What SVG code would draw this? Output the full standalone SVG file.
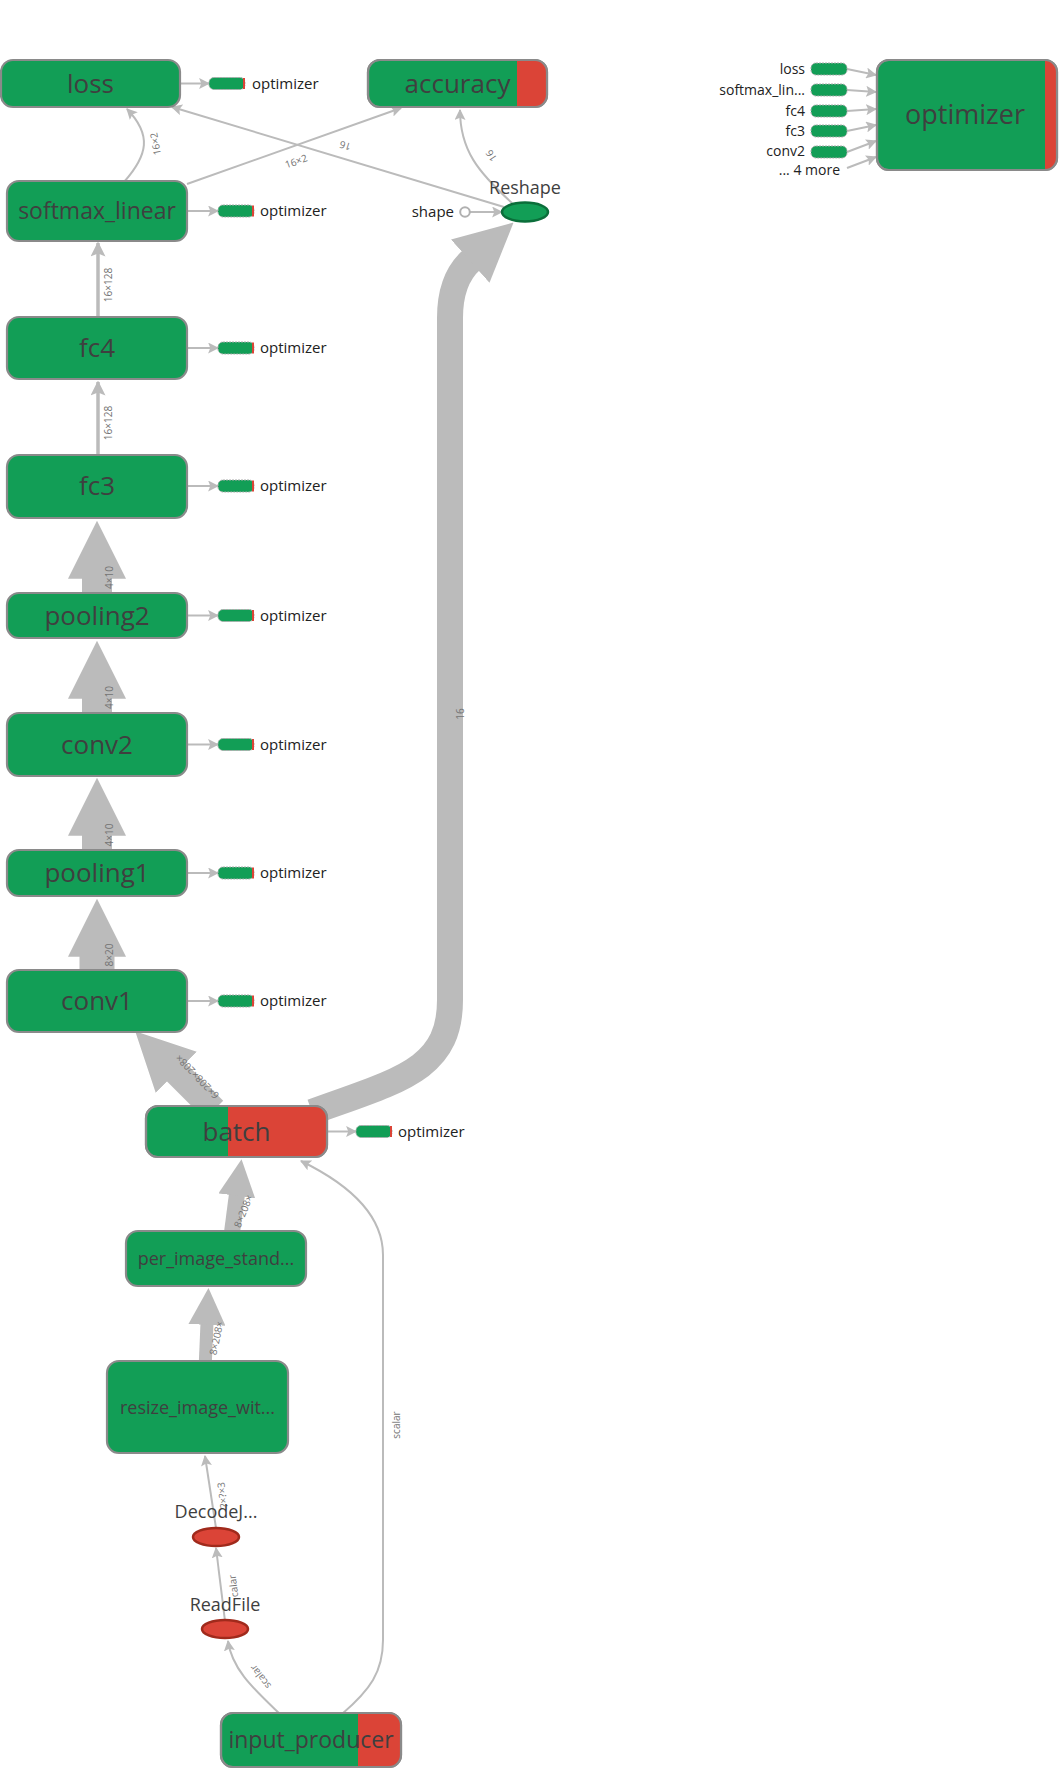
<svg xmlns="http://www.w3.org/2000/svg" width="1060" height="1772" viewBox="0 0 1060 1772">
<style>
.bg{fill:#ffffff}
.node{fill:#129e56;stroke:#8a8a8a;stroke-width:2.2}
.nodeo{fill:none;stroke:#8a8a8a;stroke-width:2.2}
.red{fill:#db4437}
.lbl{font-family:"Open Sans","Noto Sans","DejaVu Sans",sans-serif;fill:#3f3f3f;text-anchor:middle}
.ann{font-family:"Open Sans","Noto Sans","DejaVu Sans",sans-serif;fill:#222;font-size:15px}
.annR{font-family:"Open Sans","Noto Sans","DejaVu Sans",sans-serif;fill:#222;font-size:14px;text-anchor:end}
.el{font-family:"Open Sans","Noto Sans","DejaVu Sans",sans-serif;fill:#737373;font-size:10px;text-anchor:middle;dominant-baseline:central}
.e{fill:none;stroke:#bbbbbb}
.t2{stroke-width:2}
.t3{stroke-width:3.5}
.box{fill:#129e56;stroke:#aaa;stroke-width:1;stroke-dasharray:2,1}
.opE{fill:#129e56;stroke:#0b6e3a;stroke-width:2.5}
.rdE{fill:#db4437;stroke:#a02a1c;stroke-width:2.5}
</style>
<defs>
<marker id="hS" markerUnits="userSpaceOnUse" markerWidth="11" markerHeight="11" viewBox="0 0 10 10" refX="9" refY="5" orient="auto"><path d="M0,0 L10,5 L0,10 L2,5 z" fill="#bbbbbb"/></marker>
<marker id="hM" markerUnits="userSpaceOnUse" markerWidth="15" markerHeight="15" viewBox="0 0 10 10" refX="9" refY="5" orient="auto"><path d="M0,0 L10,5 L0,10 L2,5 z" fill="#bbbbbb"/></marker>
<marker id="hMid" markerUnits="userSpaceOnUse" markerWidth="37" markerHeight="37" viewBox="0 0 10 10" refX="0.5" refY="5" orient="auto"><path d="M0,0 L10,5 L0,10 z" fill="#bbbbbb"/></marker>
<marker id="hBig" markerUnits="userSpaceOnUse" markerWidth="58" markerHeight="58" viewBox="0 0 10 10" refX="0.3" refY="5" orient="auto"><path d="M0,0 L10,5 L0,10 z" fill="#bbbbbb"/></marker>
<clipPath id="cAcc"><rect x="368" y="60" width="179" height="47" rx="12"/></clipPath>
<clipPath id="cBatch"><rect x="146" y="1106" width="181" height="51" rx="12"/></clipPath>
<clipPath id="cIn"><rect x="221" y="1713" width="180" height="54" rx="12"/></clipPath>
<clipPath id="cOpt"><rect x="877" y="60" width="180" height="110" rx="12"/></clipPath>
</defs>
<rect class="bg" x="0" y="0" width="1060" height="1772"/>

<g id="connectors">
  <!-- big edges -->
  <path class="e" d="M312,1112 C400,1080 450,1070 450,1000 L450,318 C450,290 458,272 471.5,260" stroke-width="26" marker-end="url(#hBig)"/>
  <line class="e" x1="214" y1="1110" x2="175" y2="1071" stroke-width="26" marker-end="url(#hBig)"/>
  <line class="e" x1="97" y1="980" x2="97" y2="955" stroke-width="35" marker-end="url(#hBig)"/>
  <line class="e" x1="97" y1="860" x2="97" y2="834" stroke-width="30" marker-end="url(#hBig)"/>
  <line class="e" x1="97" y1="722" x2="97" y2="697" stroke-width="30" marker-end="url(#hBig)"/>
  <line class="e" x1="97" y1="602" x2="97" y2="577" stroke-width="30" marker-end="url(#hBig)"/>
  <line class="e" x1="231" y1="1240" x2="237" y2="1194" stroke-width="16" marker-end="url(#hMid)"/>
  <line class="e" x1="205" y1="1370" x2="207" y2="1323" stroke-width="13" marker-end="url(#hMid)"/>
  <!-- thin edges -->
  <line class="e t3" x1="98" y1="460" x2="98" y2="382" marker-end="url(#hM)"/>
  <line class="e t3" x1="98" y1="322" x2="98" y2="243" marker-end="url(#hM)"/>
  <line class="e t2" x1="225" y1="1621" x2="216" y2="1548" marker-end="url(#hS)"/>
  <line class="e t2" x1="216" y1="1528" x2="205" y2="1456" marker-end="url(#hS)"/>
  <path class="e t2" d="M280,1714 C255,1690 232,1670 228,1641" marker-end="url(#hS)"/>
  <path class="e t2" d="M342,1714 C370,1690 383,1672 383,1640 L383,1255 C383,1210 340,1180 301,1161" marker-end="url(#hS)"/>
  <path class="e t2" d="M124,182 C148,155 152,135 127,109" marker-end="url(#hS)"/>
  <line class="e t2" x1="187" y1="184" x2="401" y2="108" marker-end="url(#hS)"/>
  <line class="e t2" x1="504" y1="207" x2="172" y2="107" marker-end="url(#hS)"/>
  <path class="e t2" d="M512,203 C478,172 460,150 460,110" marker-end="url(#hS)"/>
  <line class="e t2" x1="469" y1="212" x2="502" y2="212" marker-end="url(#hS)"/>
  <!-- to optimizer annotations -->
  <line class="e t2" x1="180" y1="83.5" x2="209" y2="83.5" marker-end="url(#hS)"/>
  <line class="e t2" x1="187" y1="211" x2="218" y2="211" marker-end="url(#hS)"/>
  <line class="e t2" x1="187" y1="348" x2="218" y2="348" marker-end="url(#hS)"/>
  <line class="e t2" x1="187" y1="486" x2="218" y2="486" marker-end="url(#hS)"/>
  <line class="e t2" x1="187" y1="615.5" x2="218" y2="615.5" marker-end="url(#hS)"/>
  <line class="e t2" x1="187" y1="744.5" x2="218" y2="744.5" marker-end="url(#hS)"/>
  <line class="e t2" x1="187" y1="873" x2="218" y2="873" marker-end="url(#hS)"/>
  <line class="e t2" x1="187" y1="1001" x2="218" y2="1001" marker-end="url(#hS)"/>
  <line class="e t2" x1="327" y1="1131.5" x2="356" y2="1131.5" marker-end="url(#hS)"/>
  <!-- optimizer inputs -->
  <line class="e t2" x1="847" y1="69" x2="876" y2="75" marker-end="url(#hS)"/>
  <line class="e t2" x1="847" y1="90" x2="876" y2="92" marker-end="url(#hS)"/>
  <line class="e t2" x1="847" y1="111" x2="876" y2="109" marker-end="url(#hS)"/>
  <line class="e t2" x1="847" y1="131" x2="876" y2="125" marker-end="url(#hS)"/>
  <line class="e t2" x1="847" y1="152" x2="876" y2="141" marker-end="url(#hS)"/>
  <line class="e t2" x1="847" y1="168" x2="876" y2="157" marker-end="url(#hS)"/>
  <!-- edge labels -->
  <text class="el" transform="translate(108,285) rotate(-90)">16×128</text>
  <text class="el" transform="translate(108,423) rotate(-90)">16×128</text>
  <text class="el" transform="translate(108.5,577.5) rotate(-90)">4×10</text>
  <text class="el" transform="translate(108.5,697.5) rotate(-90)">4×10</text>
  <text class="el" transform="translate(108.5,835) rotate(-90)">4×10</text>
  <text class="el" transform="translate(108.5,955) rotate(-90)">8×20</text>
  <text class="el" transform="translate(396,1425) rotate(-90)">scalar</text>
  <text class="el" transform="translate(460,714) rotate(-90)">16</text>
  <text class="el" transform="translate(233,1586) rotate(-97)">calar</text>
  <text class="el" transform="translate(222,1495) rotate(-97)">?×?×3</text>
  <text class="el" transform="translate(216,1338) rotate(-78)">8×208×</text>
  <text class="el" transform="translate(243,1211) rotate(-68)">8×208×</text>
  <text class="el" transform="translate(197,1077) rotate(-134)">6×208×208×</text>
  <text class="el" transform="translate(155,144) rotate(-100)">16×2</text>
  <text class="el" transform="translate(296,161) rotate(-19.5)">16×2</text>
  <text class="el" transform="translate(345,146) rotate(197)">16</text>
  <text class="el" transform="translate(491,156) rotate(-123)">16</text>
  <text class="el" transform="translate(260,1677) rotate(-127)">scalar</text>
</g>

<g id="loss">
  <rect class="node" x="1" y="60" width="179" height="47" rx="12"/>
  <text class="lbl" x="90.5" y="93" font-size="26">loss</text>
  <rect class="box" x="209" y="77.5" width="36" height="12" rx="5"/>
  <rect class="red" x="243" y="78" width="2" height="11"/>
  <text class="ann" x="252" y="89">optimizer</text>
</g>
<g id="accuracy">
  <rect class="node" x="368" y="60" width="179" height="47" rx="12"/>
  <rect class="red" x="517" y="60" width="31" height="47" clip-path="url(#cAcc)"/>
  <rect class="nodeo" x="368" y="60" width="179" height="47" rx="12"/>
  <text class="lbl" x="457.5" y="93" font-size="26">accuracy</text>
</g>
<g id="softmax_linear">
  <rect class="node" x="7" y="181" width="180" height="60" rx="12"/>
  <text class="lbl" x="97" y="219" font-size="23">softmax_linear</text>
  <rect class="box" x="218" y="205" width="36" height="12" rx="5"/>
  <rect class="red" x="252" y="205.5" width="2" height="11"/>
  <text class="ann" x="260" y="216">optimizer</text>
</g>
<g id="Reshape">
  <text class="lbl" x="525" y="194" font-size="18">Reshape</text>
  <ellipse class="opE" cx="525" cy="212" rx="23" ry="9.5"/>
  <circle cx="465" cy="212" r="4.8" fill="#fff" stroke="#b0b0b0" stroke-width="2"/>
  <text class="ann" x="454" y="217" text-anchor="end">shape</text>
</g>
<g id="fc4">
  <rect class="node" x="7" y="317" width="180" height="62" rx="12"/>
  <text class="lbl" x="97" y="357" font-size="26">fc4</text>
  <rect class="box" x="218" y="342" width="36" height="12" rx="5"/>
  <rect class="red" x="252" y="342.5" width="2" height="11"/>
  <text class="ann" x="260" y="353">optimizer</text>
</g>
<g id="fc3">
  <rect class="node" x="7" y="455" width="180" height="63" rx="12"/>
  <text class="lbl" x="97" y="495" font-size="26">fc3</text>
  <rect class="box" x="218" y="480" width="36" height="12" rx="5"/>
  <rect class="red" x="252" y="480.5" width="2" height="11"/>
  <text class="ann" x="260" y="491">optimizer</text>
</g>
<g id="pooling2">
  <rect class="node" x="7" y="593" width="180" height="45" rx="12"/>
  <text class="lbl" x="97" y="624.5" font-size="26">pooling2</text>
  <rect class="box" x="218" y="609.5" width="36" height="12" rx="5"/>
  <rect class="red" x="252" y="610" width="2" height="11"/>
  <text class="ann" x="260" y="620.5">optimizer</text>
</g>
<g id="conv2">
  <rect class="node" x="7" y="713" width="180" height="63" rx="12"/>
  <text class="lbl" x="97" y="753.5" font-size="26">conv2</text>
  <rect class="box" x="218" y="738.5" width="36" height="12" rx="5"/>
  <rect class="red" x="252" y="739" width="2" height="11"/>
  <text class="ann" x="260" y="749.5">optimizer</text>
</g>
<g id="pooling1">
  <rect class="node" x="7" y="850" width="180" height="46" rx="12"/>
  <text class="lbl" x="97" y="882" font-size="26">pooling1</text>
  <rect class="box" x="218" y="867" width="36" height="12" rx="5"/>
  <rect class="red" x="252" y="867.5" width="2" height="11"/>
  <text class="ann" x="260" y="878">optimizer</text>
</g>
<g id="conv1">
  <rect class="node" x="7" y="970" width="180" height="62" rx="12"/>
  <text class="lbl" x="97" y="1010" font-size="26">conv1</text>
  <rect class="box" x="218" y="995" width="36" height="12" rx="5"/>
  <rect class="red" x="252" y="995.5" width="2" height="11"/>
  <text class="ann" x="260" y="1006">optimizer</text>
</g>
<g id="batch">
  <rect class="node" x="146" y="1106" width="181" height="51" rx="12"/>
  <rect class="red" x="228" y="1106" width="100" height="51" clip-path="url(#cBatch)"/>
  <rect class="nodeo" x="146" y="1106" width="181" height="51" rx="12"/>
  <text class="lbl" x="236.5" y="1140.5" font-size="26">batch</text>
  <rect class="box" x="356" y="1125.5" width="36" height="12" rx="5"/>
  <rect class="red" x="390" y="1126" width="2" height="11"/>
  <text class="ann" x="398" y="1137">optimizer</text>
</g>
<g id="per_image_standardization">
  <rect class="node" x="126" y="1231" width="180" height="55" rx="12"/>
  <text class="lbl" x="216" y="1265" font-size="18">per_image_stand...</text>
</g>
<g id="resize_image_with_crop_or_pad">
  <rect class="node" x="107" y="1361" width="181" height="92" rx="12"/>
  <text class="lbl" x="197.5" y="1413.5" font-size="18">resize_image_wit...</text>
</g>
<g id="DecodeJpeg">
  <text class="lbl" x="216" y="1518" font-size="18">DecodeJ...</text>
  <ellipse class="rdE" cx="216" cy="1537" rx="23" ry="9"/>
</g>
<g id="ReadFile">
  <text class="lbl" x="225" y="1611" font-size="18">ReadFile</text>
  <ellipse class="rdE" cx="225" cy="1629" rx="23" ry="9"/>
</g>
<g id="input_producer">
  <rect class="node" x="221" y="1713" width="180" height="54" rx="12"/>
  <rect class="red" x="358" y="1713" width="44" height="54" clip-path="url(#cIn)"/>
  <rect class="nodeo" x="221" y="1713" width="180" height="54" rx="12"/>
  <text class="lbl" x="311" y="1748" font-size="23">input_producer</text>
</g>
<g id="optimizer">
  <rect class="node" x="877" y="60" width="180" height="110" rx="12"/>
  <rect class="red" x="1045" y="60" width="13" height="110" clip-path="url(#cOpt)"/>
  <rect class="nodeo" x="877" y="60" width="180" height="110" rx="12"/>
  <text class="lbl" x="965" y="124" font-size="27">optimizer</text>
  <rect class="box" x="811" y="63" width="36" height="12" rx="5"/>
  <rect class="box" x="811" y="84" width="36" height="12" rx="5"/>
  <rect class="box" x="811" y="105" width="36" height="12" rx="5"/>
  <rect class="box" x="811" y="125" width="36" height="12" rx="5"/>
  <rect class="box" x="811" y="146" width="36" height="12" rx="5"/>
  <text class="annR" x="805" y="74">loss</text>
  <text class="annR" x="805" y="95">softmax_lin...</text>
  <text class="annR" x="805" y="116">fc4</text>
  <text class="annR" x="805" y="136">fc3</text>
  <text class="annR" x="805" y="156">conv2</text>
  <text class="annR" x="840" y="175">... 4 more</text>
</g>
</svg>
